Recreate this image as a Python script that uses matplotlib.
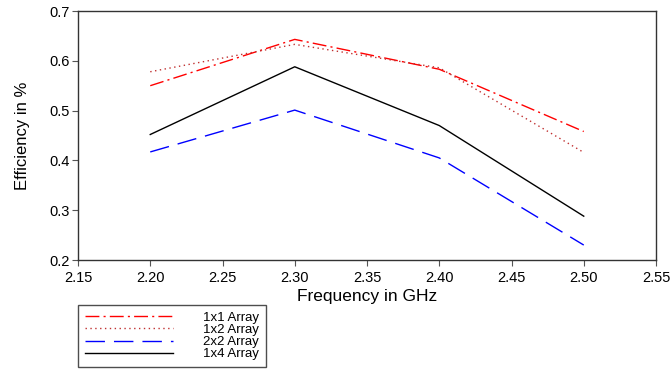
import matplotlib.pyplot as plt

plt.rcParams['font.family'] = ['Liberation Sans', 'DejaVu Sans']

freq = [2.20, 2.30, 2.40, 2.50]
eff_1x1 = [0.550, 0.643, 0.583, 0.458]
eff_1x2 = [0.578, 0.633, 0.586, 0.416]
eff_2x2 = [0.417, 0.501, 0.405, 0.230]
eff_1x4 = [0.452, 0.588, 0.470, 0.288]

fig = plt.figure(figsize=(6.71, 3.72), dpi=100)
ax = fig.add_axes([78 / 671, 1 - 260 / 372, 578 / 671, 249 / 372])

ax.plot(freq, eff_1x1, color='red', lw=1.0, dashes=(10, 3, 1.5, 3), label='1x1 Array')
ax.plot(freq, eff_1x2, color='#c03030', lw=1.0, dashes=(1, 2.5), label='1x2 Array')
ax.plot(freq, eff_2x2, color='blue', lw=1.0, dashes=(14, 6.5), label='2x2 Array')
ax.plot(freq, eff_1x4, color='black', lw=1.0, label='1x4 Array')

ax.set_xlim(2.15, 2.55)
ax.set_ylim(0.2, 0.7)
ax.set_xticks([2.15, 2.20, 2.25, 2.30, 2.35, 2.40, 2.45, 2.50, 2.55])
ax.set_yticks([0.2, 0.3, 0.4, 0.5, 0.6, 0.7])
ax.xaxis.set_major_formatter(plt.FormatStrFormatter('%.2f'))
ax.yaxis.set_major_formatter(plt.FormatStrFormatter('%.1f'))
ax.tick_params(direction='out', length=4, width=0.8, color='#555555', labelsize=10.5)
ax.tick_params(axis='y', pad=2)
ax.tick_params(axis='x', pad=4)
for side in ax.spines.values():
    side.set_color('#333333')
    side.set_linewidth(1.0)

ax.set_xlabel('Frequency in GHz', fontsize=12.5, labelpad=3)
ax.set_ylabel('Efficiency in %', fontsize=12, labelpad=14)

leg = ax.legend(loc='upper left', bbox_to_anchor=(0.0, -0.18), frameon=True,
                fancybox=False, fontsize=9.5, handlelength=6.7, handletextpad=2.3,
                labelspacing=0.0, borderpad=0.5, borderaxespad=0)
leg.get_frame().set_edgecolor('#222222')
leg.get_frame().set_linewidth(1.0)

fig.savefig('out.png', dpi=100)
